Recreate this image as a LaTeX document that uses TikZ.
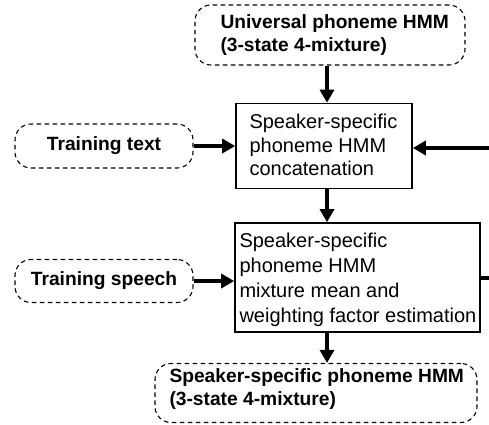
\documentclass[tikz,border=0pt]{standalone}
\usepackage{fontspec}
\setmainfont{Liberation Sans}
\usetikzlibrary{arrows.meta}
\begin{document}
\begin{tikzpicture}[x=1pt,y=-1pt,
  bfont/.style={font=\fontsize{19.2}{23}\selectfont\bfseries},
  dbox/.style={draw, line width=1.1pt, dash pattern=on 4.5pt off 3.5pt, rounded corners=16pt, inner sep=0pt, bfont},
  sbox/.style={draw, line width=1.6pt, inner sep=0pt},
  arr/.style={line width=3.8pt, -{Triangle[length=13pt,width=14pt]}},
  thick line/.style={line width=3.8pt}
]
\useasboundingbox (0,0) rectangle (489,424);
% dashed nodes
\node[dbox, minimum width=270pt, minimum height=60pt] (top) at (330,35) {};
\node[anchor=west, bfont, align=left] (toptxt) at (217,35) {Universal phoneme HMM\\(3-state 4-mixture)};
\node[dbox, minimum width=178pt, minimum height=44pt] (ttext) at (104,146) {Training text};
\node[dbox, minimum width=178pt, minimum height=43pt] (tspeech) at (104,281) {Training speech};
\node[dbox, minimum width=322pt, minimum height=59pt] (bot) at (316,393) {};
\node[anchor=west, bfont, align=left] (bottxt) at (166,389) {Speaker-specific phoneme HMM\\(3-state 4-mixture)};
% solid boxes
\node[sbox, minimum width=176pt, minimum height=85pt] (b1) at (324,146) {};
\node[anchor=west, font=\fontsize{20}{23.5}\selectfont, align=left] (b1txt) at (246,145) {Speaker-specific\\phoneme HMM\\concatenation};
\node[sbox, minimum width=245pt, minimum height=109pt] (b2) at (357.5,277.5) {};
\node[anchor=west, font=\fontsize{20}{25}\selectfont, align=left] (b2txt) at (236,280) {Speaker-specific\\phoneme HMM\\mixture mean and\\weighting factor estimation};
% connectors
\coordinate (cx) at (327,0);
\coordinate (rin) at (489,148);
\coordinate (rout) at (489,278);
\draw[arr] (top.south -| cx) -- (b1.north -| cx);
\draw[arr] (b1.south -| cx) -- (b2.north -| cx);
\draw[arr] (b2.south -| cx) -- (bot.north -| cx);
\draw[arr] (ttext.east) -- (ttext.east -| b1.west);
\draw[arr] (tspeech.east) -- (tspeech.east -| b2.west);
\draw[arr] (rin) -- (rin -| b1.east);
\draw[thick line] (rout -| b2.east) -- (rout);
\end{tikzpicture}
\end{document}
